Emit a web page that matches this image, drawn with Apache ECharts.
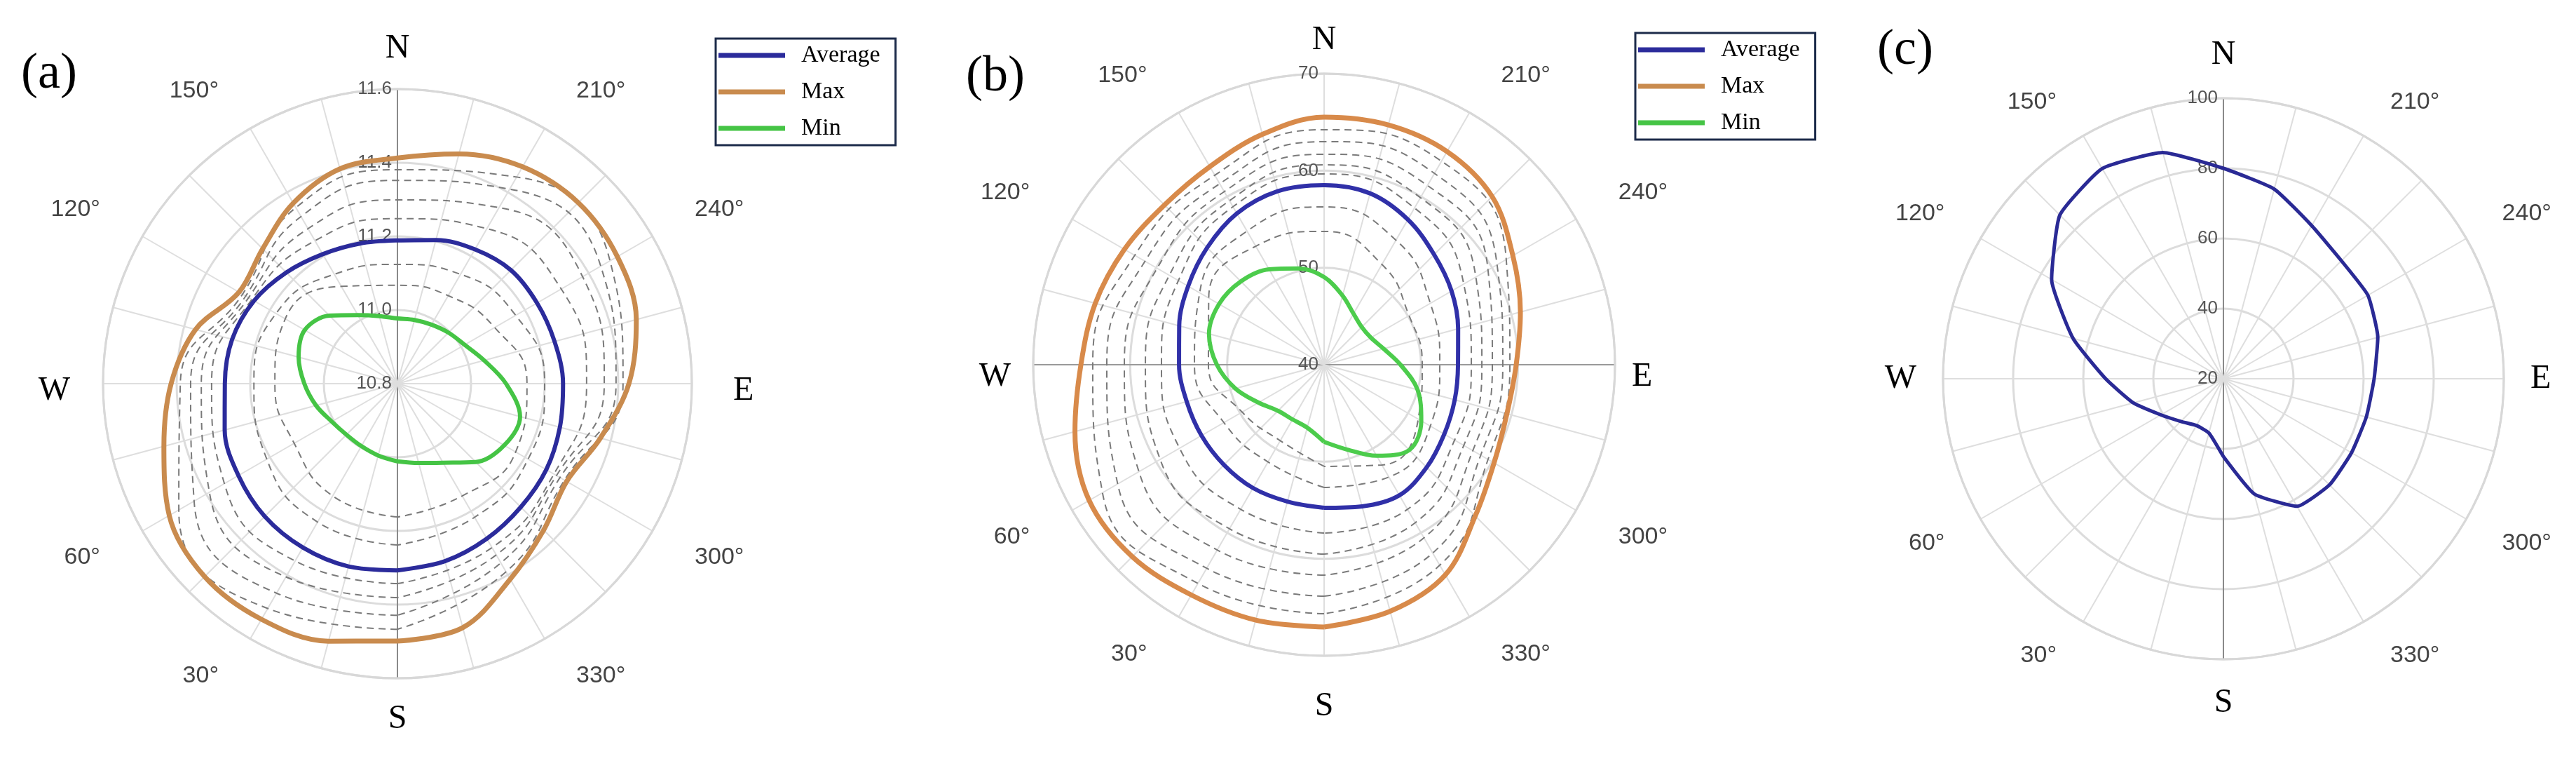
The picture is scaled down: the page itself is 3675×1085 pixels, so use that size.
<!DOCTYPE html>
<html><head><meta charset="utf-8">
<script src="https://cdn.jsdelivr.net/npm/echarts@6/dist/echarts.min.js"></script>
<style>html,body{margin:0;padding:0;background:#fff}#c{width:3675px;height:1085px}</style>
</head><body><div id="c"></div>
<script>
// ---------- data (angles in degrees, measured clockwise from S) ----------
const angles15 = [0,15,30,45,60,75,90,105,120,135,150,165,180,195,210,225,240,255,270,285,300,315,330,345];
const angles30 = [0,30,60,90,120,150,180,210,240,270,300,330];
const degreeLabels = [30,60,120,150,210,240,300,330];
const compassAngles = [0,90,180,270];
const compassNames = ['S','W','N','E'];
const panelLabels = ['(a)','(b)','(c)'];
const legendNames = ['Average','Max','Min'];

const radiusTicksA = [10.8,11.0,11.2,11.4,11.6];
const radiusTicksB = [40,50,60,70];
const radiusTicksC = [20,40,60,80,100];

// panel (a)
const aAverage = [11.307,11.314,11.314,11.310,11.299,11.286,11.269,11.265,11.250,11.227,11.206,11.194,11.189,11.204,11.221,11.236,11.238,11.242,11.250,11.257,11.267,11.274,11.286,11.299];
const aMax     = [11.499,11.524,11.539,11.541,11.516,11.457,11.415,11.368,11.297,11.318,11.366,11.404,11.413,11.446,11.480,11.495,11.490,11.472,11.429,11.371,11.331,11.362,11.413,11.486];
const aMin     = [11.011,11.002,10.996,10.996,11.006,11.029,11.053,11.078,11.091,11.061,11.015,10.990,10.977,10.979,10.985,10.996,11.011,11.044,11.095,11.145,11.135,11.101,11.048,11.023];
const aDash1 = [11.467,11.505,11.486,11.390,11.286,11.352,11.381,11.448,11.467,11.413,11.324,11.390];
const aDash2 = [11.429,11.457,11.438,11.362,11.276,11.324,11.352,11.410,11.438,11.394,11.310,11.362];
const aDash3 = [11.381,11.406,11.390,11.333,11.267,11.286,11.299,11.352,11.381,11.362,11.299,11.337];
const aDash4 = [11.343,11.356,11.343,11.305,11.257,11.248,11.248,11.286,11.314,11.314,11.291,11.314];
const aDash5 = [11.238,11.234,11.210,11.190,11.181,11.143,11.124,11.143,11.171,11.200,11.210,11.219];
const aDash6 = [11.162,11.152,11.124,11.133,11.152,11.105,11.067,11.076,11.105,11.152,11.171,11.152];

// panel (b)
const bAverage = [54.75,54.60,54.67,54.60,54.60,54.67,54.96,55.47,56.19,57.06,58.00,58.51,58.51,58.29,57.28,56.05,55.18,54.31,53.81,53.95,54.31,54.96,55.54,55.11];
const bMax     = [67.04,67.25,67.40,67.98,67.98,66.60,65.08,64.43,63.78,63.28,63.57,64.58,65.52,65.59,65.37,64.51,62.48,60.96,59.81,59.52,60.24,62.05,65.01,66.31];
const bMin     = [47.95,46.72,46.51,46.72,47.81,49.47,51.06,52.29,52.51,52.14,51.35,50.27,49.04,47.37,46.07,45.49,45.57,46.36,47.88,49.98,51.57,52.43,50.84,49.04];
const bDash1 = [65.66,66.02,66.39,63.86,62.55,62.55,64.22,64.22,61.69,59.16,59.52,63.86];
const bDash2 = [63.86,64.22,64.58,62.41,61.33,61.54,62.99,62.77,60.60,58.43,58.65,62.41];
const bDash3 = [61.69,62.05,62.05,60.60,59.88,60.60,61.69,61.33,59.52,57.35,57.71,60.60];
const bDash4 = [59.52,59.52,59.52,58.43,58.43,59.52,60.60,59.88,58.07,56.27,56.63,58.80];
const bDash5 = [57.35,57.21,57.21,56.77,57.35,58.80,59.66,58.65,56.63,55.18,55.54,57.21];
const bDash6 = [52.65,51.57,51.93,53.37,54.82,55.90,56.27,54.82,52.65,51.93,52.65,53.37];
const bDash7 = [50.48,49.04,49.76,51.93,53.74,54.10,53.74,51.93,50.12,50.12,51.21,51.93];

// panel (c)
const cAverage = [42.2,36.0,35.4,37.2,40.6,46.6,53.6,64.4,76.6,86.0,89.2,86.8,80.0,76.0,70.4,67.6,67.6,65.6,63.0,62.2,62.2,62.8,62.0,54.0];

// ---------- helpers ----------
// axis uses startAngle 90 (0 at top); original 0 is at S, so shift by 180
const toAxis = t => (t + 180) % 360;
const fromAxis = v => (v + 180) % 360;
function curve(vals, angs) {
  const d = vals.map((v, i) => [v, toAxis(angs[i])]);
  d.push(d[0]);
  return d;
}

const panels = [
  {center:[567,547], radius:420, ticks:radiusTicksA, dec:1, degMargin:42, degPad:24, compMargin:34, dark:'ns',
   cpad:{N:[0,0,0,0], S:[0,0,0,0], W:[20,13,0,0], E:[20,0,0,25]}},
  {center:[1889,520], radius:415, ticks:radiusTicksB, dec:0, degMargin:42, degPad:24, compMargin:24, dark:'we',
   cpad:{N:[0,0,0,0], S:[24,0,0,0], W:[34,8,0,0], E:[34,0,0,0]}},
  {center:[3172,540], radius:400, ticks:radiusTicksC, dec:0, degMargin:36, degPad:20, compMargin:38, dark:'ns',
   cpad:{N:[0,0,0,0], S:[0,0,0,0], W:[0,0,0,0], E:[0,0,0,0]}}
];

const polar = [], angleAxis = [], radiusAxis = [];
panels.forEach((p, k) => {
  polar.push({center:p.center, radius:p.radius});
  polar.push({center:p.center, radius:p.radius});
  const spoke = [];
  for (let i = 0; i < 12; i++) spoke.push('#dedede');
  if (p.dark === 'ns') spoke[0] = '#8a8a8a'; else spoke[6] = '#9a9a9a';
  angleAxis.push({
    polarIndex: 2*k, type:'value', min:0, max:360, interval:15, startAngle:90, clockwise:true,
    axisLine:{show:true, lineStyle:{color:'#d8d8d8', width:3}},
    axisTick:{show:false},
    axisLabel:{margin:p.degMargin, fontSize:34, color:'#444', fontFamily:'Liberation Sans',
      formatter: v => { const t = fromAxis(v); return (v < 360 && degreeLabels.includes(t)) ? '{d|' + t + '°}' : ''; },
      rich:{d:{fontSize:34, color:'#444', fontFamily:'Liberation Sans', padding:[0,p.degPad,0,p.degPad]}}},
    splitLine:{show:true, lineStyle:{color:spoke, width:2}}
  });
  const crich = {};
  compassNames.forEach(n => { crich[n] = {fontSize:48, color:'#000', fontFamily:'Liberation Serif', padding:p.cpad[n]}; });
  angleAxis.push({
    polarIndex: 2*k+1, type:'value', min:0, max:360, interval:90, startAngle:90, clockwise:true,
    axisLine:{show:false}, axisTick:{show:false}, splitLine:{show:false},
    axisLabel:{margin:p.compMargin, fontSize:48, color:'#000', fontFamily:'Liberation Serif', rich:crich,
      formatter: v => { if (v >= 360) return ''; const i = compassAngles.indexOf(fromAxis(v)); return i >= 0 ? '{' + compassNames[i] + '|' + compassNames[i] + '}' : ''; }}
  });
  const t = p.ticks;
  radiusAxis.push({
    polarIndex: 2*k, type:'value', min:t[0], max:t[t.length-1], interval:t[1]-t[0],
    axisLine:{show:false}, axisTick:{show:false},
    axisLabel:{fontSize:26, color:'#555', fontFamily:'Liberation Sans', formatter: v => v.toFixed(p.dec)},
    splitLine:{show:true, lineStyle:{color:'#dcdcdc', width:3}}
  });
  radiusAxis.push({
    polarIndex: 2*k+1, type:'value', min:t[0], max:t[t.length-1], show:false
  });
});

const series = [];
function dashed(name, vals, pi) {
  series.push({name, type:'line', coordinateSystem:'polar', polarIndex:pi, data:curve(vals, angles30),
    symbol:'none', smooth:0.5, z:2, silent:true,
    lineStyle:{color:'#7a7a7a', width:2, type:[10,7]}});
}
function main(name, vals, pi, color, width) {
  series.push({name, type:'line', coordinateSystem:'polar', polarIndex:pi, data:curve(vals, angles15),
    symbol:'none', smooth:0.35, z:5, lineStyle:{color, width}, itemStyle:{color}});
}
[aDash1,aDash2,aDash3,aDash4,aDash5,aDash6].forEach((d,i) => dashed('a-d'+i, d, 0));
main('Min', aMin, 0, '#45c445', 6);
main('Average', aAverage, 0, '#2b2b9b', 6);
main('Max', aMax, 0, '#c98b4e', 7);
[bDash1,bDash2,bDash3,bDash4,bDash5,bDash6,bDash7].forEach((d,i) => dashed('b-d'+i, d, 2));
main('Min', bMin, 2, '#4ccc4c', 6);
main('Average', bAverage, 2, '#3030a8', 6);
main('Max', bMax, 2, '#d88a4a', 7);
series.push({name:'Average', type:'line', coordinateSystem:'polar', polarIndex:4, data:curve(cAverage, angles15),
  symbol:'none', smooth:0.15, z:5, lineStyle:{color:'#2a2a95', width:5}, itemStyle:{color:'#2a2a95'}});

const legendBase = {
  data: legendNames, orient:'vertical', icon:'rect', itemWidth:95, itemHeight:7, itemGap:14,
  borderColor:'#1c2b4a', borderWidth:3, padding:[5,22,5,4], backgroundColor:'#fff', selectedMode:false,
  textStyle:{fontFamily:'Liberation Serif', fontSize:34, color:'#000', lineHeight:38, padding:[0,0,0,18]}
};

const titlePos = [[30,70],[1378,74],[2678,36]];
const title = panelLabels.map((s,i) => ({text:s, left:titlePos[i][0], top:titlePos[i][1], padding:0,
  textStyle:{fontFamily:'Liberation Serif', fontSize:72, fontWeight:'normal', color:'#000'}}));

const chart = echarts.init(document.getElementById('c'));
chart.setOption({
  backgroundColor:'#fff',
  animation:false,
  title,
  legend:[Object.assign({left:1021, top:55}, legendBase), Object.assign({left:2333, top:47}, legendBase)],
  polar, angleAxis, radiusAxis, series
});
</script></body></html>
